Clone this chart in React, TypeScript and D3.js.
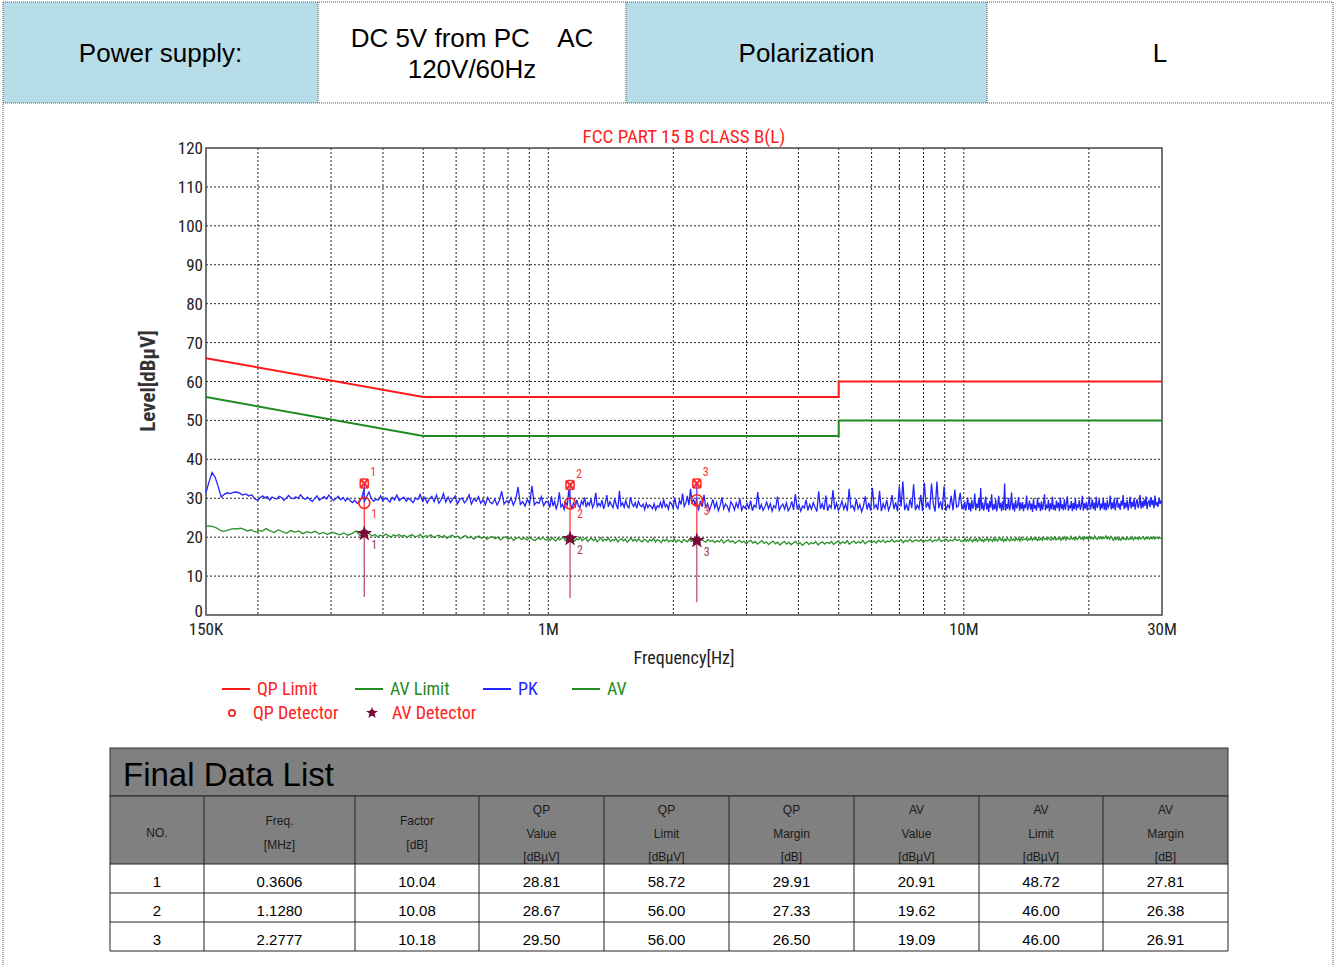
import React from "react";
import * as d3 from "d3";

const W = 1339;
const H = 966;

// ---- data ----
const headerTexts = [["Power supply:"], ["DC 5V from PC    AC", "120V/60Hz"], ["Polarization"], ["L"]];

const yTicks = [0, 10, 20, 30, 40, 50, 60, 70, 80, 90, 100, 110, 120];
const xTickFreqs = [0.15, 1, 10, 30];
const xTickLabels = ["150K", "1M", "10M", "30M"];
const gridFreqs = [0.2, 0.3, 0.4, 0.5, 0.6, 0.7, 0.8, 0.9, 1, 2, 3, 4, 5, 6, 7, 8, 9, 10, 20];

const limitFreqs = [0.15, 0.5, 5, 5, 30];
const qpLimit = [66, 56, 56, 60, 60];
const avLimit = [56, 46, 46, 50, 50];

// sweep segments (MHz) and readings in each
const segBreaks = [0.15, 0.2, 0.3606, 1.0, 2.2777, 10, 30];

const pk1 = [31.5, 34.2, 36.6, 35.4, 33.0, 30.3, 31.0, 31.4, 31.2, 31.5, 31.6, 31.3, 30.8, 31.1, 30.6, 30.9, 29.8, 29.5];
const pk2 = [29.6, 30.2, 30.6, 30.1, 30.4, 29.5, 30.3, 30.0, 29.8, 30.5, 30.2, 29.4, 30.1, 30.7, 30.0, 29.9, 30.4, 30.0, 30.9, 30.2, 29.7, 30.3, 29.6, 29.2, 29.9, 30.6, 29.5, 30.0, 30.4, 29.8, 30.8, 30.1, 29.4, 29.9, 30.5, 29.6, 30.2, 29.3, 30.0, 29.4, 28.9, 29.5, 28.7, 29.1, 30.2, 32.6];
const pk3 = [29.1, 30.4, 31.6, 30.0, 29.2, 29.8, 29.5, 30.6, 29.3, 30.1, 29.7, 29.0, 30.2, 29.6, 30.8, 29.4, 29.9, 30.3, 29.2, 30.0, 29.5, 28.9, 30.1, 29.7, 31.0, 29.3, 30.2, 28.8, 29.9, 30.5, 29.1, 30.8, 28.7, 29.6, 31.2, 29.0, 30.3, 28.9, 29.8, 30.6, 28.6, 29.7, 30.1, 28.8, 29.5, 30.9, 28.5, 29.9, 29.2, 30.4, 28.7, 29.6, 28.4, 30.2, 29.0, 28.6, 29.8, 28.3, 29.4, 31.8, 28.5, 29.3, 28.8, 30.1, 28.2, 29.6, 32.9, 28.4, 29.1, 28.0, 29.7, 28.6, 33.2, 28.3, 29.0, 28.7, 30.4, 28.1, 29.2, 28.9];
const pk4 = [28.9, 27.6, 30.5, 28.0, 29.2, 27.3, 28.6, 31.5, 27.8, 28.4, 27.1, 29.0, 28.2, 32.2, 28.5,
  27.4, 28.8, 27.9, 29.6, 28.1, 27.5, 29.3, 28.4, 30.2, 27.7, 28.9, 28.2, 29.8, 27.6, 28.5, 31.4, 27.9, 28.7, 28.0, 29.5, 27.3, 28.6, 30.8, 27.8, 29.1, 28.3, 27.6, 29.9, 28.4, 27.2, 31.9, 28.1, 28.8, 27.7, 29.4, 28.0, 27.5, 30.3, 28.6, 27.9, 28.9, 27.4, 29.2, 28.2, 27.8, 28.5, 27.1, 28.7, 27.6, 28.3, 27.9, 27.3, 28.6, 27.0, 28.1, 27.7, 28.9, 27.4, 29.7, 27.8, 28.4, 27.2, 29.0, 28.6, 27.5, 30.1, 28.0, 27.3, 29.5, 28.4, 31.2, 27.9, 28.8, 30.6, 28.2, 32.4, 28.9, 29.6, 28.3, 30.0];
const pk5 = [28.4, 27.1, 29.3, 27.8, 30.9, 27.4, 28.6, 26.9, 28.2, 29.7,
  27.5, 28.9, 26.8, 28.1, 30.2, 27.3, 28.5, 27.9, 26.7, 29.1,
  28.3, 27.0, 28.8, 27.6, 29.9, 26.9, 28.0, 27.4, 28.7, 27.2,
  29.4, 26.8, 28.2, 27.7, 31.6, 27.1, 28.4, 26.9, 27.8, 29.0,
  27.3, 28.6, 26.7, 28.1, 27.5, 30.4, 26.9, 27.9, 28.5, 27.2,
  28.8, 26.8, 27.6, 29.2, 27.0, 31.1, 27.4, 28.3, 26.7, 28.0,
  27.5, 29.6, 26.9, 28.4, 27.2, 28.9, 27.7, 26.6, 31.8, 27.3,
  28.6, 27.0, 30.7, 26.8, 28.2, 27.5, 32.1, 27.1, 28.7, 26.9,
  27.8, 29.3, 27.2, 28.5, 26.7, 32.4, 27.6, 28.1, 26.9, 29.8,
  27.3, 28.4, 26.5, 28.0, 30.5, 27.1, 28.8, 26.8, 32.7, 27.5,
  28.3, 27.0, 31.9, 26.7, 28.6, 27.4, 29.5, 26.9, 28.1, 30.8,
  27.2, 28.9, 26.6, 33.1, 27.8, 34.3, 27.0, 28.4, 26.8, 29.7,
  27.5, 33.6, 26.9, 28.2, 27.3, 30.9, 26.7, 34.0, 27.6, 28.8,
  27.1, 33.8, 28.5, 26.6, 34.3, 27.4, 29.2, 27.0, 33.1, 26.8,
  28.3, 27.5, 30.6, 26.9, 32.2, 27.7, 28.1, 31.4, 27.2, 28.6];
const pk6 = [27.4, 29.1, 26.8, 28.5, 30.2, 27.0, 28.8, 26.6, 29.6, 27.3,
  28.1, 31.2, 26.9, 28.6, 27.5, 29.8, 26.7, 32.6, 27.2, 28.9,
  26.8, 28.3, 30.4, 27.1, 28.7, 26.5, 29.3, 27.6, 31.0, 26.9,
  28.4, 27.2, 29.7, 26.6, 28.0, 30.6, 27.4, 28.8, 26.7, 29.2,
  27.0, 33.8, 26.8, 28.5, 27.3, 30.1, 26.9, 28.2, 31.5, 27.1,
  28.7, 26.6, 29.5, 27.4, 28.1, 30.3, 26.8, 28.9, 27.2, 29.0,
  26.7, 28.4, 27.5, 30.7, 26.9, 28.0, 29.4, 27.1, 28.6, 26.5,
  29.9, 27.3, 28.2, 26.8, 30.1, 27.6, 28.8, 26.7, 29.2, 27.0,
  28.5, 31.0, 26.9, 28.1, 27.4, 29.6, 26.6, 28.7, 27.2, 30.4,
  27.0, 28.3, 26.8, 29.4, 27.5, 28.9, 26.7, 30.2, 27.3, 28.4,
  26.9, 29.7, 27.1, 28.6, 30.5, 26.8, 28.2, 27.4, 29.3, 26.7,
  28.8, 27.2, 30.0, 26.9, 28.4, 27.6, 29.5, 27.0, 28.1, 30.6,
  26.8, 28.7, 27.3, 29.1, 26.9, 28.5, 30.3, 27.1, 28.0, 29.7,
  27.2, 28.9, 26.8, 30.4, 27.5, 28.3, 29.8, 26.9, 28.6, 27.4,
  30.1, 27.0, 28.8, 26.9, 29.5, 27.6, 28.2, 30.7, 27.1, 28.9,
  27.3, 29.9, 26.9, 28.4, 30.2, 27.5, 28.7, 27.0, 29.4, 28.1,
  30.8, 27.2, 28.9, 27.6, 29.6, 26.9, 28.5, 30.4, 27.4, 29.1,
  27.8, 30.0, 27.1, 28.7, 29.8, 27.5, 28.4, 30.9, 27.3, 29.2,
  27.6, 29.7, 28.0, 30.5, 27.2, 28.9, 29.4, 27.7, 30.3, 28.2,
  29.6, 27.4, 30.7, 28.1, 29.0, 27.8, 30.2, 28.5, 29.3, 28.8];

const av1 = [22.8, 22.9, 22.7, 22.4, 21.8, 21.5, 21.7, 22.0, 22.2, 22.1, 22.3, 22.0, 21.6, 21.9, 21.4, 21.3];
const av2 = [21.8, 21.5, 22.2, 21.6, 21.2, 21.9, 21.4, 21.0, 21.7, 21.3, 21.6, 20.9, 21.4, 21.1, 21.5, 20.8, 21.2, 20.7, 21.3, 21.0, 20.6, 21.1, 20.5, 20.9, 21.6, 20.4, 21.0];
const av3 = [20.6, 21.4, 20.8, 20.3, 20.7, 20.1, 20.5, 20.2, 20.8, 20.4, 20.0, 20.6, 20.3, 20.7, 20.2, 20.5, 19.9, 20.4, 20.6, 20.1, 20.3, 20.7, 19.8, 20.4, 20.2, 20.6, 19.9, 20.3, 20.5, 20.0, 20.4, 19.7, 20.2, 20.5, 19.9, 20.3, 19.6, 20.1, 20.4, 19.8, 20.2, 19.5, 20.0, 20.3, 19.7, 20.1, 19.4, 19.9, 20.2, 19.6, 20.0, 19.3, 19.8, 20.1, 19.5, 19.9, 19.2, 19.7, 20.0, 19.4, 19.8, 19.3, 19.9, 19.5, 19.1, 19.8, 19.4, 20.0, 19.2, 19.6];
const av4 = [19.7, 19.2, 19.9, 19.4, 19.0, 19.8, 19.3, 19.6, 20.1, 19.1, 19.5, 19.9, 19.2, 19.7, 19.0, 19.6, 19.3, 20.0, 19.1, 19.5, 19.8, 18.9, 19.4, 19.7, 19.1, 19.6, 18.8, 19.3, 19.9, 19.0, 19.5, 19.2, 19.8, 18.9, 19.4, 19.1, 19.7, 18.8, 19.3, 19.6, 19.0, 19.5, 18.7, 19.2, 19.8, 19.0, 19.4, 18.9, 19.6, 19.1, 18.8, 19.5, 19.2, 18.7, 19.4, 19.0, 19.7, 18.8, 19.3, 19.1, 18.6, 19.4, 19.0, 19.5, 18.8, 19.2, 18.9, 19.6, 18.7, 19.3, 19.0, 18.6, 19.4, 19.1, 18.8, 19.5, 18.9, 19.2, 18.7, 19.3];
const av5 = [19.3, 18.8, 19.5, 19.0, 18.7, 19.4, 18.9, 19.2, 18.6, 19.1,
  18.8, 19.4, 18.5, 19.0, 19.3, 18.7, 19.1, 18.4, 18.9, 19.2,
  18.6, 19.0, 18.3, 18.8, 19.2, 18.5, 18.9, 18.2, 18.7, 19.1,
  18.4, 18.8, 18.1, 18.6, 19.0, 18.3, 18.7, 18.0, 18.5, 18.9,
  18.2, 18.7, 18.1, 18.5, 18.9, 18.2, 18.6, 17.9, 18.4, 18.8,
  18.1, 18.6, 18.3, 18.9, 18.0, 18.5, 18.8, 18.2, 18.7, 18.4,
  18.9, 18.1, 18.6, 19.0, 18.3, 18.8, 18.4, 19.1, 18.2, 18.7,
  19.0, 18.4, 18.9, 18.5, 19.2, 18.3, 18.8, 19.1, 18.6, 19.0,
  18.5, 19.2, 18.7, 19.3, 18.6, 19.0, 18.8, 19.4, 18.7, 19.1,
  18.9, 19.4, 18.6, 19.2, 18.9, 19.5, 18.8, 19.1, 19.3, 18.9,
  19.4, 18.7, 19.2, 19.0, 19.5, 18.8, 19.3, 19.1, 19.6, 18.9,
  19.2, 19.5, 18.9, 19.3, 19.0, 19.6, 19.1, 19.4, 18.9, 19.3];
const av6 = [19.1, 19.6, 18.9, 19.4, 19.0, 19.7, 19.2, 18.8, 19.5, 19.1,
  19.6, 18.9, 19.3, 19.7, 19.0, 19.4, 18.8, 19.5, 19.2, 19.8,
  19.0, 19.5, 19.3, 18.9, 19.7, 19.1, 19.6, 19.0, 19.4, 19.8,
  19.2, 19.6, 18.9, 19.5, 19.1, 19.8, 19.3, 19.0, 19.7, 19.2,
  19.5, 19.1, 19.8, 19.3, 19.6, 19.0, 19.9, 19.2, 19.5, 19.4,
  19.7, 19.1, 19.6, 19.3, 20.0, 19.2, 19.7, 19.4, 19.9, 19.1,
  19.6, 19.3, 19.8, 19.2, 20.0, 19.4, 19.7, 19.3, 19.9, 19.5,
  19.2, 19.8, 19.4, 20.1, 19.3, 19.7, 19.5, 20.0, 19.2, 19.8,
  19.5, 20.1, 19.3, 19.9, 19.6, 19.4, 20.2, 19.5, 19.8, 19.3,
  20.0, 19.4, 19.7, 20.2, 19.5, 19.9, 19.3, 20.1, 19.6, 19.8,
  19.4, 20.2, 19.6, 19.9, 19.5, 20.3, 19.7, 19.4, 20.0, 19.6,
  20.1, 19.5, 19.9, 19.7, 20.3, 19.6, 20.0, 19.5, 20.2, 19.8,
  19.2, 19.8, 19.4, 20.0, 19.3, 19.6, 19.2, 19.9, 19.5, 19.7,
  19.3, 20.0, 19.4, 19.7, 19.5, 20.1, 19.3, 19.8, 19.6, 19.9,
  19.4, 20.0, 19.5, 19.8, 20.1, 19.4, 19.9, 19.6, 20.0, 19.5,
  19.9, 19.6, 20.1, 19.5, 19.8, 20.0, 19.6, 19.9, 19.7, 19.8];

const pkSegs = [pk1, pk2, pk3, pk4, pk5, pk6];
const avSegs = [av1, av2, av3, av4, av5, av6];

// final data markers
const markerNo = [1, 2, 3];
const markerFreq = [0.3606, 1.128, 2.2777];
const factorVal = [10.04, 10.08, 10.18];
const qpValue = [28.81, 28.67, 29.5];
const qpLim = [58.72, 56.0, 56.0];
const qpMargin = [29.91, 27.33, 26.5];
const avValue = [20.91, 19.62, 19.09];
const avLim = [48.72, 46.0, 46.0];
const avMargin = [27.81, 26.38, 26.91];
const pkPeak = [33.8, 33.4, 33.8];
const stemEnd = [4.6, 4.4, 3.3];

const colHeads = [["NO."], ["Freq.", "[MHz]"], ["Factor", "[dB]"], ["QP", "Value", "[dBµV]"], ["QP", "Limit", "[dBµV]"], ["QP", "Margin", "[dB]"], ["AV", "Value", "[dBµV]"], ["AV", "Limit", "[dBµV]"], ["AV", "Margin", "[dB]"]];

// ---- layout ----
const narrow = "'Liberation Sans Narrow', 'Arial Narrow', 'Roboto Condensed', sans-serif";
const sans = "'Liberation Sans', Arial, Helvetica, sans-serif";

const x = d3.scaleLog().domain([0.15, 30]).range([206, 1162]);
const y = d3.scaleLinear().domain([0, 120]).range([615, 148]);

type P = { f: number; v: number };

function sweep(segs: number[][]): P[] {
  const pts: P[] = [];
  segs.forEach((vals, k) => {
    const f0 = Math.log10(segBreaks[k]);
    const f1 = Math.log10(segBreaks[k + 1]);
    vals.forEach((v, i) => {
      const t = vals.length > 1 ? i / (vals.length - 1) : 0;
      pts.push({ f: Math.pow(10, f0 + (f1 - f0) * t), v });
    });
  });
  return pts;
}

const line = d3
  .line<P>()
  .x((d) => x(d.f))
  .y((d) => y(d.v));

const pkPts = sweep(pkSegs);
const avPts = sweep(avSegs);
const qpLimPts = limitFreqs.map((f, i) => ({ f, v: qpLimit[i] }));
const avLimPts = limitFreqs.map((f, i) => ({ f, v: avLimit[i] }));

const starPath = d3.symbol(d3.symbolStar, 80)() as string;
const astPath = d3.symbol(d3.symbolCross, 45)() as string;

const headerX = [3, 318, 626, 987, 1333];
const headerFill = ["#b7dde8", "#ffffff", "#b7dde8", "#ffffff"];

const colWidths = [94, 151, 124, 125, 125, 125, 125, 124, 125];
const colX = colWidths.reduce((acc: number[], w) => [...acc, acc[acc.length - 1] + w], [110]);

const rows = markerNo.map((n, i) => [
  String(n),
  markerFreq[i].toFixed(4),
  factorVal[i].toFixed(2),
  qpValue[i].toFixed(2),
  qpLim[i].toFixed(2),
  qpMargin[i].toFixed(2),
  avValue[i].toFixed(2),
  avLim[i].toFixed(2),
  avMargin[i].toFixed(2),
]);

function AvStar({ cx, cy, s = 1 }: { cx: number; cy: number; s?: number }) {
  return (
    <g transform={`translate(${cx},${cy}) scale(${s})`}>
      <path d={starPath} fill="#7a0b3c" />
      <path d={astPath} fill="#7a0b3c" transform="rotate(45)" />
    </g>
  );
}

function PkMark({ cx, cy }: { cx: number; cy: number }) {
  return (
    <g transform={`translate(${cx},${cy})`} stroke="#ff2a2a" fill="none">
      <rect x={-4} y={-4.5} width={8} height={9} rx={2.5} strokeWidth={1.6} />
      <path d="M-4,-4.5L4,4.5M4,-4.5L-4,4.5" strokeWidth={2} />
    </g>
  );
}

export default function App() {
  const yTop = 148;
  const yBot = 615;
  return (
    <div style={{ position: "absolute", left: 0, top: 0 }}>
      <svg width={W} height={H} style={{ display: "block", background: "#fff" }}>
        {/* header table */}
        {headerTexts.map((lines, i) => {
          const cx = (headerX[i] + headerX[i + 1]) / 2;
          return (
            <g key={i}>
              <rect x={headerX[i]} y={2} width={headerX[i + 1] - headerX[i]} height={101} fill={headerFill[i]} />
              {lines.map((t, j) => (
                <text
                  key={j}
                  x={cx}
                  y={lines.length === 1 ? 62 : 47 + j * 31}
                  textAnchor="middle"
                  fontFamily={sans}
                  fontSize={26}
                  fill="#000"
                  style={{ whiteSpace: "pre" }}
                >
                  {t}
                </text>
              ))}
            </g>
          );
        })}
        <g stroke="#555" strokeDasharray="1,1" strokeWidth={1} fill="none">
          <line x1={3} x2={1333} y1={2} y2={2} />
          <line x1={3} x2={1333} y1={103} y2={103} />
          <line x1={3} x2={3} y1={2} y2={966} />
          <line x1={1333} x2={1333} y1={2} y2={966} />
          {headerX.slice(1, 4).map((hx) => (
            <line key={hx} x1={hx} x2={hx} y1={2} y2={103} />
          ))}
        </g>

        {/* chart grid */}
        <g stroke="#222" strokeDasharray="2,2" strokeWidth={1}>
          {yTicks.slice(1, -1).map((t) => (
            <line key={t} x1={206} x2={1162} y1={y(t)} y2={y(t)} />
          ))}
          {gridFreqs.map((f) => (
            <line key={f} x1={x(f)} x2={x(f)} y1={yTop} y2={yBot} />
          ))}
        </g>
        <rect x={206} y={yTop} width={1162 - 206} height={yBot - yTop} fill="none" stroke="#444" strokeWidth={1.5} />

        {/* axis labels */}
        {yTicks.map((t) => (
          <text key={t} x={203} y={t === 0 ? y(t) + 2 : y(t) + 6} textAnchor="end" fontFamily={narrow} fontSize={17} fill="#222">
            {t}
          </text>
        ))}
        {xTickFreqs.map((f, i) => (
          <text key={f} x={x(f)} y={635} textAnchor="middle" fontFamily={narrow} fontSize={17} fill="#222">
            {xTickLabels[i]}
          </text>
        ))}
        <text x={684} y={143} textAnchor="middle" fontFamily={narrow} fontSize={19} fill="#ff2020">
          FCC PART 15 B CLASS B(L)
        </text>
        <text x={684} y={664} textAnchor="middle" fontFamily={narrow} fontSize={18} fill="#222">
          Frequency[Hz]
        </text>
        <text
          transform="translate(155,381) rotate(-90)"
          textAnchor="middle"
          fontFamily={narrow}
          fontSize={21}
          fontWeight="bold"
          fill="#333"
        >
          Level[dBµV]
        </text>

        {/* traces */}
        <path d={line(avPts) as string} fill="none" stroke="#2a922a" strokeWidth={1.3} />
        <path d={line(pkPts) as string} fill="none" stroke="#2424ff" strokeWidth={1.3} />
        <path d={line(qpLimPts) as string} fill="none" stroke="#ff1a1a" strokeWidth={2} />
        <path d={line(avLimPts) as string} fill="none" stroke="#1f8c1f" strokeWidth={2} />

        {/* markers */}
        {markerFreq.map((f, i) => {
          const mx = x(f);
          return (
            <g key={f}>
              <line x1={mx} x2={mx} y1={y(pkPeak[i])} y2={y(qpValue[i])} stroke="#3a3aff" strokeWidth={1.2} />
              <line x1={mx} x2={mx} y1={y(qpValue[i])} y2={y(avValue[i])} stroke="#ff3030" strokeWidth={1.2} />
              <line x1={mx} x2={mx} y1={y(avValue[i])} y2={y(stemEnd[i])} stroke="#b84068" strokeWidth={1.2} />
              <PkMark cx={mx} cy={y(pkPeak[i])} />
              <circle cx={mx} cy={y(qpValue[i])} r={5.5} fill="none" stroke="#ff2020" strokeWidth={1.6} />
              <AvStar cx={mx} cy={y(avValue[i])} />
              <text x={mx + 6} y={y(pkPeak[i]) - 7} fontFamily={narrow} fontSize={12} fill="#ff3030">
                {markerNo[i]}
              </text>
              <text x={mx + 7} y={y(qpValue[i]) + 15} fontFamily={narrow} fontSize={12} fill="#ff3030">
                {markerNo[i]}
              </text>
              <text x={mx + 7} y={y(avValue[i]) + 15} fontFamily={narrow} fontSize={12} fill="#a0406a">
                {markerNo[i]}
              </text>
            </g>
          );
        })}

        {/* legend */}
        <g fontFamily={narrow} fontSize={18}>
          <line x1={222} x2={250} y1={689} y2={689} stroke="#ff1a1a" strokeWidth={2} />
          <text x={257} y={695} fill="#ff2020">QP Limit</text>
          <line x1={355} x2={383} y1={689} y2={689} stroke="#1f8c1f" strokeWidth={2} />
          <text x={390} y={695} fill="#1f8c1f">AV Limit</text>
          <line x1={483} x2={511} y1={689} y2={689} stroke="#2424ff" strokeWidth={2} />
          <text x={518} y={695} fill="#2424ff">PK</text>
          <line x1={572} x2={600} y1={689} y2={689} stroke="#1f8c1f" strokeWidth={2} />
          <text x={607} y={695} fill="#1f8c1f">AV</text>
          <circle cx={232} cy={713} r={3.2} fill="none" stroke="#ff2020" strokeWidth={1.8} />
          <text x={253} y={719} fill="#ff2020">QP Detector</text>
          <AvStar cx={372} cy={713} s={0.75} />
          <text x={392} y={719} fill="#ff2020">AV Detector</text>
        </g>

        {/* final data list */}
        <rect x={110} y={748} width={1118} height={48} fill="#808080" stroke="#333" strokeWidth={1} />
        <text x={123} y={786} fontFamily={sans} fontSize={33} fill="#000">
          Final Data List
        </text>
        <rect x={110} y={796} width={1118} height={68} fill="#808080" />
        {colHeads.map((lines, c) => {
          const cx = (colX[c] + colX[c + 1]) / 2;
          const start = lines.length === 1 ? 833 : lines.length === 2 ? 821 : 810;
          return lines.map((t, j) => (
            <text key={`${c}-${j}`} x={cx} y={start + j * 23.5 + 4} textAnchor="middle" fontFamily={sans} fontSize={12} fill="#1a1a1a">
              {t}
            </text>
          ));
        })}
        {rows.map((r, i) =>
          r.map((t, c) => (
            <text
              key={`${i}-${c}`}
              x={(colX[c] + colX[c + 1]) / 2}
              y={864 + i * 29 + 23}
              textAnchor="middle"
              fontFamily={sans}
              fontSize={15}
              fill="#000"
            >
              {t}
            </text>
          ))
        )}
        <g stroke="#222" strokeWidth={1}>
          {[796, 864, 893, 922, 951].map((ly) => (
            <line key={ly} x1={110} x2={1228} y1={ly} y2={ly} />
          ))}
          {colX.map((cxv) => (
            <line key={cxv} x1={cxv} x2={cxv} y1={796} y2={951} />
          ))}
        </g>
      </svg>
    </div>
  );
}
